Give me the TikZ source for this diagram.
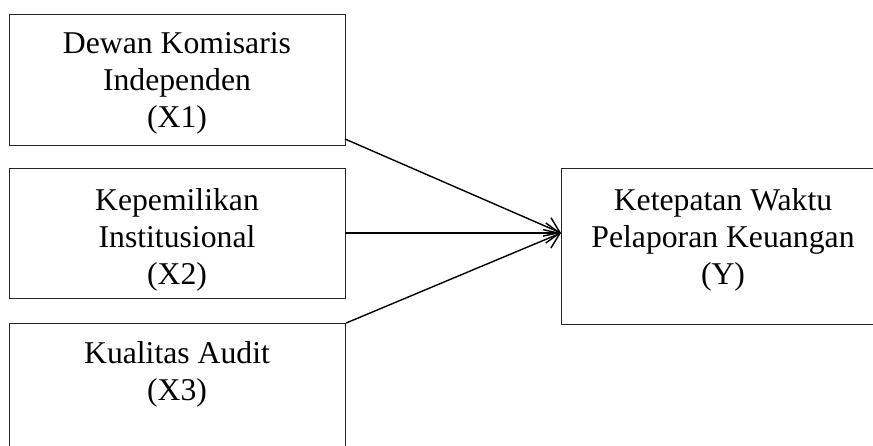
\documentclass[tikz,border=0pt]{standalone}
\usepackage{fontspec}
\setmainfont{Liberation Serif}
\usetikzlibrary{arrows.meta}
\begin{document}
\begin{tikzpicture}[x=1pt,y=-1pt,
  box/.style={draw=black!85, line width=1.2pt, rectangle, anchor=north west, inner sep=0pt},
  txt/.style={align=center, inner sep=0pt, font=\fontsize{31.7}{37}\selectfont},
  conn/.style={line width=1.4pt, draw=black},
  arr/.style={conn, -{Straight Barb[length=14pt,width=20pt,line width=1.4pt]}}]
\useasboundingbox (0,0) rectangle (873,446);
\clip (0,0) rectangle (873,446);
\node[box, minimum width=336pt, minimum height=131pt] (x1) at (9,14) {};
\node[box, minimum width=336pt, minimum height=130pt] (x2) at (9,168) {};
\node[box, minimum width=336pt, minimum height=140pt] (x3) at (9,323) {};
\node[box, minimum width=330pt, minimum height=156pt] (y) at (561,168) {};
\node[txt] (t1) at (177,83.6) {Dewan Komisaris\\Independen\\(X1)};
\node[txt] (t2) at (177,239.6) {Kepemilikan\\Institusional\\(X2)};
\node[txt] (t3) at (177,374) {Kualitas Audit\\(X3)};
\node[txt] (ty) at (723,239.6) {Ketepatan Waktu\\Pelaporan Keuangan\\(Y)};
\coordinate (tip) at (561,233);
\coordinate (s1) at (345,139);
\coordinate (s2) at (345,233);
\draw[arr] (s1) -- (tip);
\draw[arr] (s2) -- (tip);
\draw[arr] (x3.north east) -- (tip);
\end{tikzpicture}
\end{document}
